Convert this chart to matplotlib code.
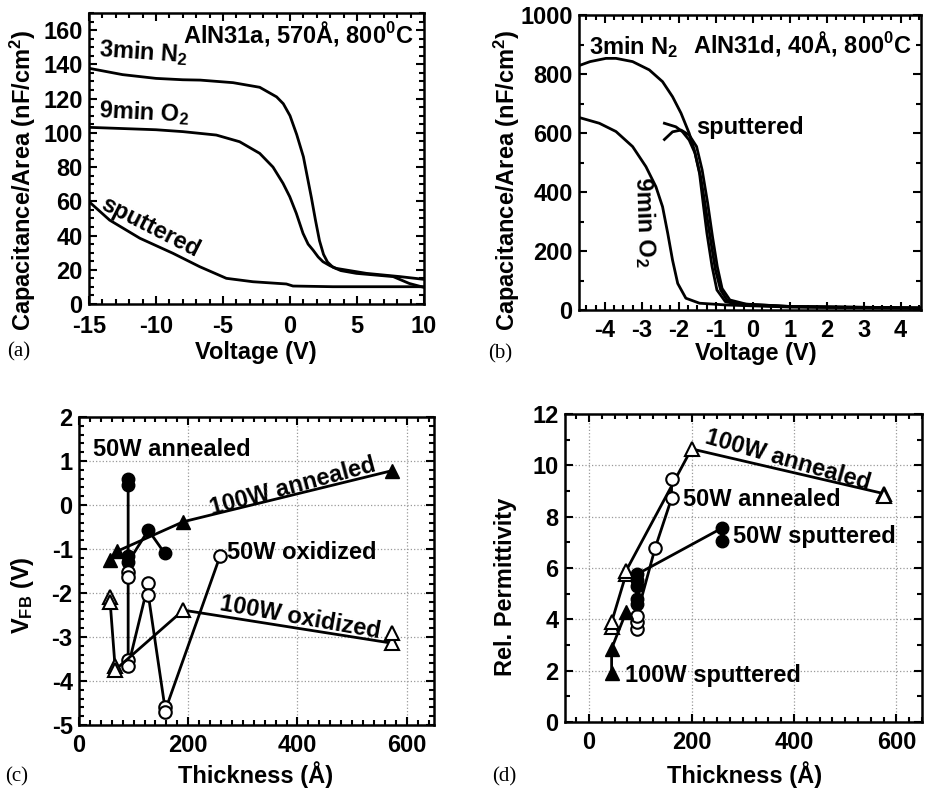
import numpy as np
import matplotlib
matplotlib.use("Agg")
import matplotlib.pyplot as plt
from matplotlib.ticker import MultipleLocator

# --- (a) C-V, AlN31a 570 A ---
va_n2 = [-15, -12.5, -10, -8, -6.7, -4.25, -2.26, -1.0, -0.5, 0.0, 0.5, 1.0, 1.3, 1.6, 1.9,
         2.2, 2.5, 2.8, 3.2, 3.8, 4.95, 7.7, 8.9, 10]
ca_n2 = [137.7, 134, 131.8, 131, 130.8, 129.3, 126.6, 121, 117, 110, 99, 86, 74, 62, 49,
         37, 29, 24.5, 21.5, 19.5, 17.9, 16, 12, 9.7]
va_o2 = [-15, -10, -8, -5.5, -3.76, -2.26, -1.27, -0.52, -0.02, 0.47, 0.97, 1.35, 1.72,
         2.1, 2.46, 3.0, 3.46, 5.7, 8.2, 10]
ca_o2 = [103.2, 101.8, 100.7, 98.7, 94.8, 88, 80, 70.5, 62.7, 53, 41.3, 35, 31.5,
         27.5, 24.7, 22.3, 20.8, 17.9, 16, 14.4]
va_sp = [-15, -13.46, -11.2, -8.73, -6.74, -4.75, -2.76, -0.27, 0.22, 3.2, 10]
ca_sp = [59.8, 49, 38.4, 29.6, 21.8, 15, 13, 11.7, 10.5, 10.1, 10.1]

# --- (b) C-V, AlN31d 40 A ---
vb_n2 = [-4.71, -4.4, -3.97, -3.70, -3.25, -2.8, -2.44, -2.17, -1.94, -1.72, -1.58, -1.44,
         -1.33, -1.24, -1.10, -0.97, -0.74, -0.27, 1.08, 4.55]
cb_n2 = [828, 842, 853, 853, 842, 814, 774, 723, 667, 599, 542, 463,
         350, 260, 147, 68, 28, 17, 11, 6]
vb_o2 = [-4.71, -4.15, -3.70, -3.25, -2.89, -2.62, -2.44, -2.30, -2.17, -2.03, -1.81,
         -1.44, -0.72, 1.0, 4.55]
cb_o2 = [653, 633, 605, 554, 486, 418, 350, 260, 169, 90, 40, 23, 17, 10, 6]
vb_s1 = [-2.39, -2.08, -1.9, -1.72, -1.56, -1.41, -1.28, -1.14, -1.01, -0.87, -0.70,
         -0.27, 1.0, 4.55]
cb_s1 = [633, 621, 604, 576, 531, 452, 350, 237, 136, 68, 34, 20, 12, 7]
vb_s2 = [-2.39, -2.17, -1.94, -1.72, -1.52, -1.37, -1.22, -1.09, -0.96, -0.83, -0.62,
         -0.18, 1.0, 4.55]
cb_s2 = [578, 604, 610, 593, 554, 475, 362, 249, 147, 73, 34, 20, 12, 7]

# --- (c) flat-band voltage vs thickness ---
tc_50a = [90, 90, 90, 90, 127, 157]
vc_50a = [0.6, 0.45, -1.15, -1.3, -0.57, -1.1]
tc_100a = [57, 70, 191, 573]
vc_100a = [-1.25, -1.05, -0.38, 0.78]
tc_50o = [90, 90, 90, 90, 127, 127, 157, 157, 258]
vc_50o = [-1.52, -1.63, -3.52, -3.67, -1.78, -2.05, -4.58, -4.70, -1.17]
tc_100o = [57, 57, 66, 66, 191, 573, 573]
vc_100o = [-2.08, -2.2, -3.67, -3.75, -2.39, -3.14, -2.92]

# --- (d) relative permittivity vs thickness ---
td_100a = [44, 44, 72, 72, 200, 575, 575]
pd_100a = [3.70, 3.89, 5.75, 5.88, 10.64, 8.9, 8.8]
td_50a = [93, 93, 93, 129, 161, 161]
pd_50a = [3.63, 3.89, 4.14, 6.78, 8.71, 9.48]
td_50s = [93, 93, 93, 93, 93, 259, 259]
pd_50s = [4.6, 4.79, 5.3, 5.55, 5.75, 7.55, 7.04]
td_100s = [44, 44, 72]
pd_100s = [1.89, 2.86, 4.27]

plt.rcParams["font.family"] = ["Liberation Sans", "DejaVu Sans"]
plt.rcParams["font.weight"] = "bold"
plt.rcParams["axes.labelweight"] = "bold"
plt.rcParams["mathtext.default"] = "regular"
plt.rcParams["axes.unicode_minus"] = False
plt.rcParams["font.size"] = 17

W, H = 929, 790
fig = plt.figure(figsize=(W / 100, H / 100), dpi=100)


def box(l, r, t, b):
    return [l / W, 1 - b / H, (r - l) / W, (b - t) / H]


def style(ax, xmaj, xmin, ymaj, ymin, grid=False, xpad=6.5):
    ax.xaxis.set_major_locator(MultipleLocator(xmaj))
    ax.xaxis.set_minor_locator(MultipleLocator(xmin))
    ax.yaxis.set_major_locator(MultipleLocator(ymaj))
    ax.yaxis.set_minor_locator(MultipleLocator(ymin))
    ax.tick_params(which="both", direction="in", top=True, right=True, width=1.5,
                   labelsize=17)
    ax.tick_params(axis="x", pad=xpad)
    ax.tick_params(axis="y", pad=4.5)
    ax.tick_params(which="major", length=6)
    ax.tick_params(which="minor", length=3.5)
    for s in ax.spines.values():
        s.set_linewidth(1.8)
    for lab in ax.get_xticklabels() + ax.get_yticklabels():
        lab.set_fontweight("bold")
    if grid:
        ax.grid(True, which="major", linestyle=":", color="#999999", linewidth=0.9)
        ax.set_axisbelow(True)


lw = 2.0

# (a)
ax = fig.add_axes(box(89, 424, 13, 304))
ax.plot(va_n2, ca_n2, "k-", lw=lw)
ax.plot(va_o2, ca_o2, "k-", lw=lw)
ax.plot(va_sp, ca_sp, "k-", lw=lw)
ax.set_xlim(-15, 10)
ax.set_ylim(0, 170)
style(ax, 5, 1, 20, 5, xpad=8)
ax.set_xlabel("Voltage (V)")
ax.set_ylabel("Capacitance/Area (nF/cm$^2$)")
ax.text(9.2, 158, "AlN31a, 570Å, 800$^0$C", ha="right", va="center")
ax.text(-14.3, 147, "3min N$_2$", ha="left", va="center", rotation=-4)
ax.text(-14.3, 112, "9min O$_2$", ha="left", va="center", rotation=-3)
ax.text(-10.4, 45, "sputtered", ha="center", va="center", rotation=-27)

# (b)
ax = fig.add_axes(box(579, 921, 15, 310))
ax.plot(vb_n2, cb_n2, "k-", lw=lw)
ax.plot(vb_o2, cb_o2, "k-", lw=lw)
ax.plot(vb_s1, cb_s1, "k-", lw=lw)
ax.plot(vb_s2, cb_s2, "k-", lw=lw)
ax.set_xlim(-4.7, 4.55)
ax.set_ylim(0, 1000)
style(ax, 1, 0.25, 200, 100)
ax.set_xlabel("Voltage (V)")
ax.set_ylabel("Capacitance/Area (nF/cm$^2$)")
ax.text(4.3, 905, "AlN31d, 40Å, 800$^0$C", ha="right", va="center")
ax.text(-4.43, 891, "3min N$_2$", ha="left", va="center")
ax.text(-1.53, 617, "sputtered", ha="left", va="center")
ax.text(-2.92, 298, "9min O$_2$", ha="center", va="center", rotation=-88)

ms = 9
# (c)
ax = fig.add_axes(box(79, 434, 417, 725))
ax.plot(tc_50a, vc_50a, "k-o", lw=lw, ms=ms)
ax.plot(tc_100a, vc_100a, "k-^", lw=lw, ms=ms + 1)
ax.plot(tc_50o, vc_50o, "k-o", lw=lw, ms=ms, mfc="white", mew=1.5)
ax.plot(tc_100o, vc_100o, "k-^", lw=lw, ms=ms + 1, mfc="white", mew=1.5)
ax.set_xlim(0, 650)
ax.set_ylim(-5, 2)
style(ax, 200, 20, 1, 0.2, grid=True)
ax.set_xlabel("Thickness (Å)")
ax.set_ylabel("V$_{FB}$ (V)")
ax.text(26, 1.25, "50W annealed", ha="left", va="center")
ax.text(392, 0.41, "100W annealed", ha="center", va="center", rotation=15)
ax.text(271, -1.09, "50W oxidized", ha="left", va="center")
ax.text(405, -2.57, "100W oxidized", ha="center", va="center", rotation=-10)

# (d)
ax = fig.add_axes(box(565, 922, 414, 722))
ax.plot(td_100a, pd_100a, "k-^", lw=lw, ms=ms + 1, mfc="white", mew=1.5)
ax.plot(td_50a, pd_50a, "k-o", lw=lw, ms=ms, mfc="white", mew=1.5)
ax.plot(td_50s, pd_50s, "k-o", lw=lw, ms=ms)
ax.plot(td_100s, pd_100s, "k-^", lw=lw, ms=ms + 1)
ax.set_xlim(-47, 650)
ax.set_ylim(0, 12)
style(ax, 200, 25, 2, 1, grid=True)
ax.set_xlabel("Thickness (Å)")
ax.set_ylabel("Rel. Permittivity")
ax.text(389, 10.2, "100W annealed", ha="center", va="center", rotation=-16)
ax.text(184, 8.65, "50W annealed", ha="left", va="center")
ax.text(281, 7.22, "50W sputtered", ha="left", va="center")
ax.text(70, 1.8, "100W sputtered", ha="left", va="center")

# label positions
axes = fig.axes
xl = [(0.4985, -0.165), (0.5175, -0.146), (0.4986, -0.162), (0.504, -0.172)]
yl = [(-0.197, 0.426), (-0.21, 0.44), (-0.158, 0.42), (-0.168, 0.44)]
for a, (x1, y1), (x2, y2) in zip(axes, xl, yl):
    a.xaxis.label.set_va("center")
    a.xaxis.set_label_coords(x1, y1)
    a.yaxis.label.set_va("center")
    a.yaxis.set_label_coords(x2, y2)

for lab, (px, py) in zip(["(a)", "(b)", "(c)", "(d)"],
                         [(7, 352), (488, 354), (5, 777), (492, 777)]):
    fig.text(px / W, 1 - py / H, lab, family="Liberation Serif", weight="normal",
             fontsize=15, ha="left", va="center")

fig.savefig("out.png", dpi=100)
